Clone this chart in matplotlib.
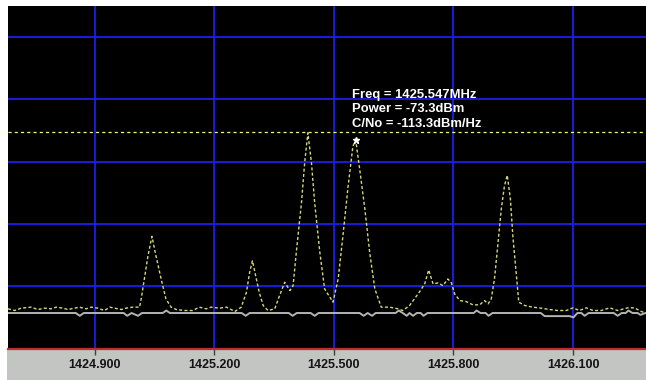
import matplotlib
matplotlib.use("Agg")
import matplotlib.pyplot as plt
from matplotlib.patches import Rectangle

# spectrum trace (yellow, dotted) - MHz / dB
freq_mhz = [1424.683, 1424.700, 1424.716, 1424.741, 1424.758, 1424.775, 1424.791,
            1424.804, 1424.821, 1424.833, 1424.850, 1424.862, 1424.879, 1424.892,
            1424.908, 1424.925, 1424.938, 1424.950, 1424.967, 1424.979, 1424.996,
            1425.013, 1425.017, 1425.025, 1425.034, 1425.044, 1425.054, 1425.067,
            1425.079, 1425.092, 1425.105, 1425.126, 1425.146, 1425.163, 1425.180,
            1425.192, 1425.214, 1425.231, 1425.252, 1425.268, 1425.281, 1425.289,
            1425.296, 1425.304, 1425.313, 1425.323, 1425.335, 1425.352, 1425.364,
            1425.377, 1425.390, 1425.398, 1425.406, 1425.419, 1425.427, 1425.435,
            1425.444, 1425.452, 1425.465, 1425.477, 1425.498, 1425.511, 1425.523,
            1425.536, 1425.548, 1425.555, 1425.565, 1425.578, 1425.590, 1425.603,
            1425.619, 1425.640, 1425.661, 1425.673, 1425.690, 1425.715, 1425.728,
            1425.738, 1425.749, 1425.761, 1425.774, 1425.786, 1425.795, 1425.803,
            1425.816, 1425.832, 1425.849, 1425.866, 1425.878, 1425.887, 1425.895,
            1425.903, 1425.912, 1425.920, 1425.928, 1425.935, 1425.943, 1425.949,
            1425.958, 1425.964, 1425.979, 1425.999, 1426.020, 1426.041, 1426.062,
            1426.083, 1426.100, 1426.116, 1426.133, 1426.150, 1426.171, 1426.192,
            1426.212, 1426.237, 1426.254, 1426.271, 1426.282]
level_db = [-103.63, -103.90, -103.52, -103.36, -103.74, -103.52, -103.63,
            -103.36, -103.52, -103.74, -103.52, -103.36, -103.63, -103.36,
            -103.52, -103.90, -103.36, -103.52, -103.74, -103.52, -103.36,
            -103.36, -102.03, -98.83, -95.10, -92.00, -95.10, -98.83,
            -102.03, -103.36, -103.74, -103.90, -103.90, -103.36, -103.63,
            -103.36, -103.52, -103.36, -104.06, -103.36, -100.96, -97.76,
            -95.90, -98.30, -100.96, -103.10, -103.90, -103.63, -101.50,
            -99.36, -100.70, -99.90, -94.56, -86.56, -80.16, -75.36,
            -80.16, -86.56, -94.56, -100.43, -102.56, -98.83, -91.90,
            -83.90, -77.50, -76.54, -81.23, -87.63, -94.56, -100.43,
            -103.36, -103.36, -103.63, -103.90, -103.10, -100.91, -99.63,
            -97.39, -99.63, -99.47, -99.90, -98.83, -99.47, -101.23,
            -102.30, -102.46, -102.99, -102.99, -102.30, -102.83, -102.03,
            -98.83, -92.96, -87.63, -83.90, -82.19, -86.03, -91.90,
            -98.30, -102.56, -103.10, -103.36, -103.52, -103.74, -103.90,
            -103.90, -103.47, -103.90, -103.47, -103.90, -103.90, -103.47,
            -103.90, -103.47, -103.47, -104.06, -104.27]

# noise floor trace (gray)
floor_freq = [1424.683, 1424.853, 1424.863, 1424.873, 1424.973, 1424.982, 1424.993,
              1425.009, 1425.019, 1425.071, 1425.080, 1425.089, 1425.269, 1425.279,
              1425.289, 1425.387, 1425.397, 1425.407, 1425.442, 1425.452, 1425.462,
              1425.565, 1425.575, 1425.585, 1425.596, 1425.605, 1425.655, 1425.663,
              1425.673, 1425.683, 1425.690, 1425.699, 1425.708, 1425.718, 1425.725,
              1425.735, 1425.851, 1425.858, 1425.868, 1425.881, 1425.888, 1425.898,
              1426.019, 1426.029, 1426.091, 1426.101, 1426.111, 1426.121, 1426.129,
              1426.139, 1426.202, 1426.212, 1426.222, 1426.232, 1426.239, 1426.249,
              1426.262, 1426.269, 1426.282]
floor_db = [-104.3, -104.3, -104.75, -104.3, -104.3, -104.75, -104.3,
            -104.75, -104.3, -104.3, -103.9, -104.3, -104.3, -104.75,
            -104.3, -104.3, -104.75, -104.3, -104.3, -104.75, -104.3,
            -104.3, -104.75, -104.3, -104.75, -104.3, -104.3, -103.9,
            -104.3, -104.75, -104.3, -104.75, -104.3, -104.3, -104.75,
            -104.3, -104.3, -103.9, -104.3, -104.3, -104.75, -104.3,
            -104.3, -104.8, -104.8, -105.0, -104.3, -104.3, -104.75,
            -104.3, -104.3, -104.75, -104.3, -104.3, -103.9, -104.3,
            -104.3, -104.6, -104.3]

threshold_db = -75.2
marker_freq = 1425.555
marker_db = -76.54
marker_lines = ["Freq = 1425.547MHz", "Power = -73.3dBm", "C/No = -113.3dBm/Hz"]

xticks = [1424.900, 1425.200, 1425.500, 1425.800, 1426.100]
yticks = [-100, -90, -80, -70, -60]

W, H = 646, 380
fig = plt.figure(figsize=(W / 100, H / 100), dpi=100, facecolor="white")
ax = fig.add_axes([8 / W, 31.5 / H, 1 - 8 / W, (348.5 - 6) / H])
ax.set_facecolor("black")

# gray status strip under the plot
fig.patches.append(Rectangle((7 / W, 0), 1, 31.5 / H, transform=fig.transFigure,
                             facecolor="#c2c5c2", edgecolor="none", zorder=-5))

for xv in xticks:
    ax.axvline(xv, color="#1c1cf0", lw=1.3, zorder=1)
for yv in yticks:
    ax.axhline(yv, color="#1c1cf0", lw=1.3, zorder=1)

ax.axhline(threshold_db, color="#f4f47a", lw=0.9, ls=(0, (2.5, 2.5)), zorder=2)
ax.plot(floor_freq, floor_db, color="#b4b4b4", lw=1.4, zorder=3)
ax.plot(freq_mhz, level_db, color="#d6d67c", lw=1.0, ls=(0, (2.2, 1.6)), zorder=4)
ax.plot([marker_freq], [marker_db], marker="*", color="white", ms=5, zorder=5)

ax.annotate("\n".join(marker_lines), (marker_freq, marker_db),
            xytext=(-4, 10), textcoords="offset pixels", ha="left", va="bottom",
            color="white", fontsize=9.4, fontweight="bold", linespacing=1.3,
            family=["Liberation Sans", "DejaVu Sans"], zorder=6)

ax.set_xlim(1424.683, 1426.283)
ax.set_ylim(-110, -55)
ax.set_xticks(xticks)
ax.set_xticklabels(["%.3f" % v for v in xticks])
ax.set_yticks(yticks)
ax.tick_params(axis="y", left=False, labelleft=False)
ax.tick_params(axis="x", direction="out", length=4.5, width=1, color="#404040",
               pad=3, labelsize=9, labelcolor="#141414")
for lbl in ax.get_xticklabels():
    lbl.set_fontweight("bold")
    lbl.set_family(["Liberation Sans", "DejaVu Sans"])

for side in ["top", "left", "right"]:
    ax.spines[side].set_visible(False)
ax.spines["bottom"].set_color("#c42a2a")
ax.spines["bottom"].set_linewidth(1.6)

fig.savefig("out.png", dpi=100, facecolor="white")
